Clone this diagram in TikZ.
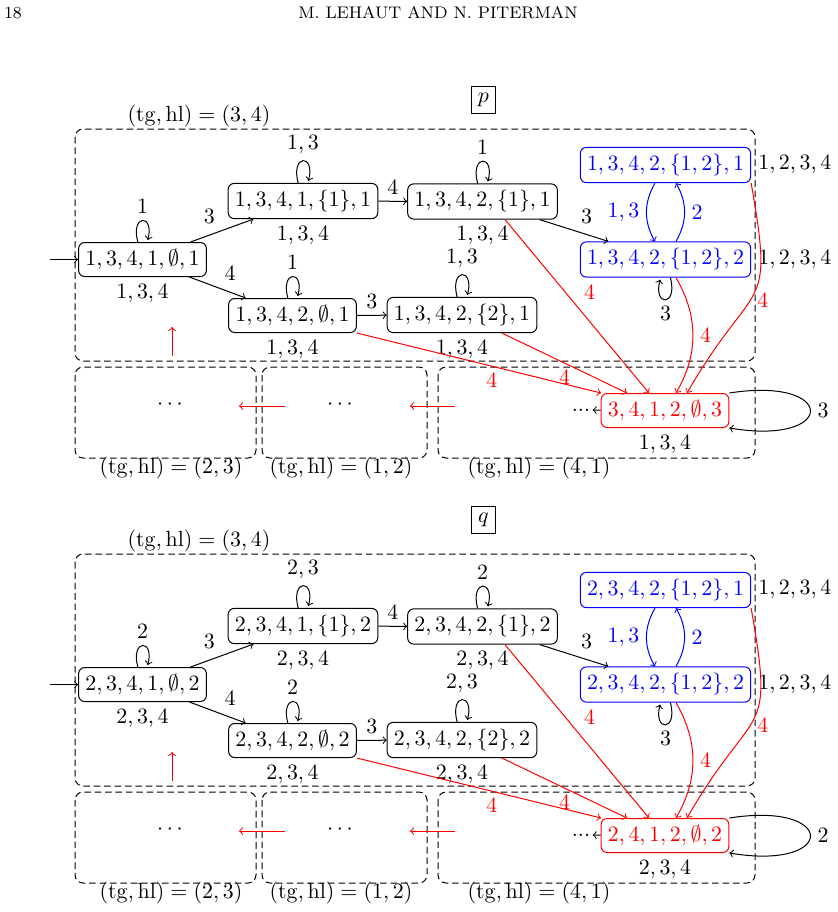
\documentclass[tikz,border=0pt]{standalone}
\usetikzlibrary{arrows}
\begin{document}
\tikzset{
  every node/.style={font=\fontsize{10.95}{13.6}\selectfont},
  st/.style={draw, rounded corners=3pt, minimum height=17pt, inner sep=3.33pt},
  bst/.style={st, draw=blue, text=blue},
  rst/.style={st, draw=red, text=red},
  dbox/.style={draw, dash pattern=on 3.3pt off 1.9pt, rounded corners=4pt},
  lp/.style={->, min distance=6mm},
  hdr/.style={anchor=base, font=\fontsize{8.4}{10}\selectfont},
}
\newcommand\drawpanel{%
  % dashed boxes
  \draw[dbox] (75,129) rectangle (755,361);
  \node (T34) at (199,116) {$(\mathrm{tg},\mathrm{hl})=(3,4)$};
  \draw[dbox] (75,367) rectangle (256,458);
  \draw[dbox] (262,367) rectangle (427,458);
  \draw[dbox] (438,367) rectangle (755,458);
  \node (T23) at (171,468) {$(\mathrm{tg},\mathrm{hl})=(2,3)$};
  \node (T12) at (341,468) {$(\mathrm{tg},\mathrm{hl})=(1,2)$};
  \node (T41) at (539,468) {$(\mathrm{tg},\mathrm{hl})=(4,1)$};
  \node (dotsA) at (170,405) {$\cdots$};
  \node (dotsB) at (340,405) {$\cdots$};
  % states
  \node[st, label={[name=Al]below:$\pU$}] (A) at (142.5,259.5) {$\pA$};
  \node[st, label={[name=Bl]below:$\pU$}] (B) at (303,201) {$\pB$};
  \node[st, label={[name=Cl]below:$\pU$}] (C) at (482.5,201.5) {$\pC$};
  \node[st, label={[name=Dl]below:$\pU$}] (D) at (292.5,315.5) {$\pD$};
  \node[st, label={[name=El]below:$\pU$}] (E) at (462,315) {$\pE$};
  \node[bst, label={[name=Fl]right:$1,2,3,4$}] (F) at (665.5,165) {$\pF$};
  \node[bst, label={[name=Gl]right:$1,2,3,4$}] (G) at (665.5,259.5) {$\pG$};
  \node[rst, label={[name=Hl]below:$\pU$}] (H) at (665,410.5) {$\pH$};
  \node[inner sep=1pt] (dotsH) at (581,410) {...};
  % initial
  \coordinate (init) at (50,259.5);
  \draw[->] (init) -- (A);
  % loops
  \path (A) edge[lp, loop above] node[above] {$\lA$} ();
  \path (B) edge[lp, loop above] node[above] {$\lB$} ();
  \path (C) edge[lp, loop above] node[above] {$\lC$} ();
  \path (D) edge[lp, loop above] node[above] {$\lD$} ();
  \path (E) edge[lp, loop above] node[above] {$\lE$} ();
  \path (G) edge[lp, loop below] node[below] {$3$} ();
  \draw[->] (H.north east) .. controls +(108,-17) and +(108,18) .. (H.south east)
     node[pos=0.5, right] {$\lH$};
  % black edges
  \draw[->] (A) -- node[above left] {$3$} (B);
  \draw[->] (A) -- node[above right] {$4$} (D);
  \draw[->] (B) -- node[above] {$4$} (C);
  \draw[->] (D) -- node[above] {$3$} (E);
  \draw[->] (C) -- node[above right] {$3$} (G);
  \draw[->] (H) -- (dotsH);
  % blue edges
  \draw[->, blue] ([xshift=-5.25pt]F.south) to[bend right=30] node[left] {$1,3$} ([xshift=-5.25pt]G.north);
  \draw[->, blue] ([xshift=5.25pt]G.north) to[bend right=30] node[right] {$2$} ([xshift=5.25pt]F.south);
  % red edges
  \draw[->, red] (D.south east) -- node[pos=0.553, below] {$4$} ([xshift=-32pt]H.north);
  \draw[->, red] ([xshift=20pt]E.south) -- node[pos=0.5, below] {$4$} ([xshift=-19pt]H.north);
  \draw[->, red] ([xshift=11.25pt]C.south) -- node[pos=0.5, above right] {$4$} ([xshift=-8pt]H.north);
  \draw[->, red] ([xshift=5.25pt]G.south) to[bend left=30] node[right] {$4$} ([xshift=5.5pt]H.north);
  \draw[->, red] (F.south east) to[out=-80, in=60, looseness=1.6] node[pos=0.55, right] {$4$} ([xshift=11pt]H.north);
  % red free arrows
  \coordinate (u1) at (172,356); \coordinate (u2) at (172,327);
  \draw[->, red] (u1) -- (u2);
  \coordinate (la1) at (285,406); \coordinate (la2) at (239,406);
  \draw[->, red] (la1) -- (la2);
  \coordinate (lb1) at (455,406); \coordinate (lb2) at (410,406);
  \draw[->, red] (lb1) -- (lb2);
}
\begin{tikzpicture}[x=0.5pt, y=-0.5pt, line width=0.5pt]
\useasboundingbox (0,0) rectangle (838,912);
\node[hdr] (pagenum) at (13,18) {18};
\node[hdr] (runhead) at (438,18) {M. LEHAUT AND N. PITERMAN};
\node[draw, inner sep=3.33pt] (pbox) at (483.5,99.5) {$p$};
\node[draw, inner sep=3.33pt] (qbox) at (483.5,519.5) {$q$};
% panel p
\def\pA{1,3,4,1,\emptyset,1}
\def\pB{1,3,4,1,\{1\},1}
\def\pC{1,3,4,2,\{1\},1}
\def\pD{1,3,4,2,\emptyset,1}
\def\pE{1,3,4,2,\{2\},1}
\def\pF{1,3,4,2,\{1,2\},1}
\def\pG{1,3,4,2,\{1,2\},2}
\def\pH{3,4,1,2,\emptyset,3}
\def\pU{1,3,4}
\def\lA{1}\def\lB{1,3}\def\lC{1}\def\lD{1}\def\lE{1,3}\def\lH{3}
\begin{scope}[name prefix=p-]
\drawpanel
\end{scope}
% panel q
\def\pA{2,3,4,1,\emptyset,2}
\def\pB{2,3,4,1,\{1\},2}
\def\pC{2,3,4,2,\{1\},2}
\def\pD{2,3,4,2,\emptyset,2}
\def\pE{2,3,4,2,\{2\},2}
\def\pF{2,3,4,2,\{1,2\},1}
\def\pG{2,3,4,2,\{1,2\},2}
\def\pH{2,4,1,2,\emptyset,2}
\def\pU{2,3,4}
\def\lA{2}\def\lB{2,3}\def\lC{2}\def\lD{2}\def\lE{2,3}\def\lH{2}
\begin{scope}[shift={(0,425)}, name prefix=q-]
\drawpanel
\end{scope}
\end{tikzpicture}
\end{document}
